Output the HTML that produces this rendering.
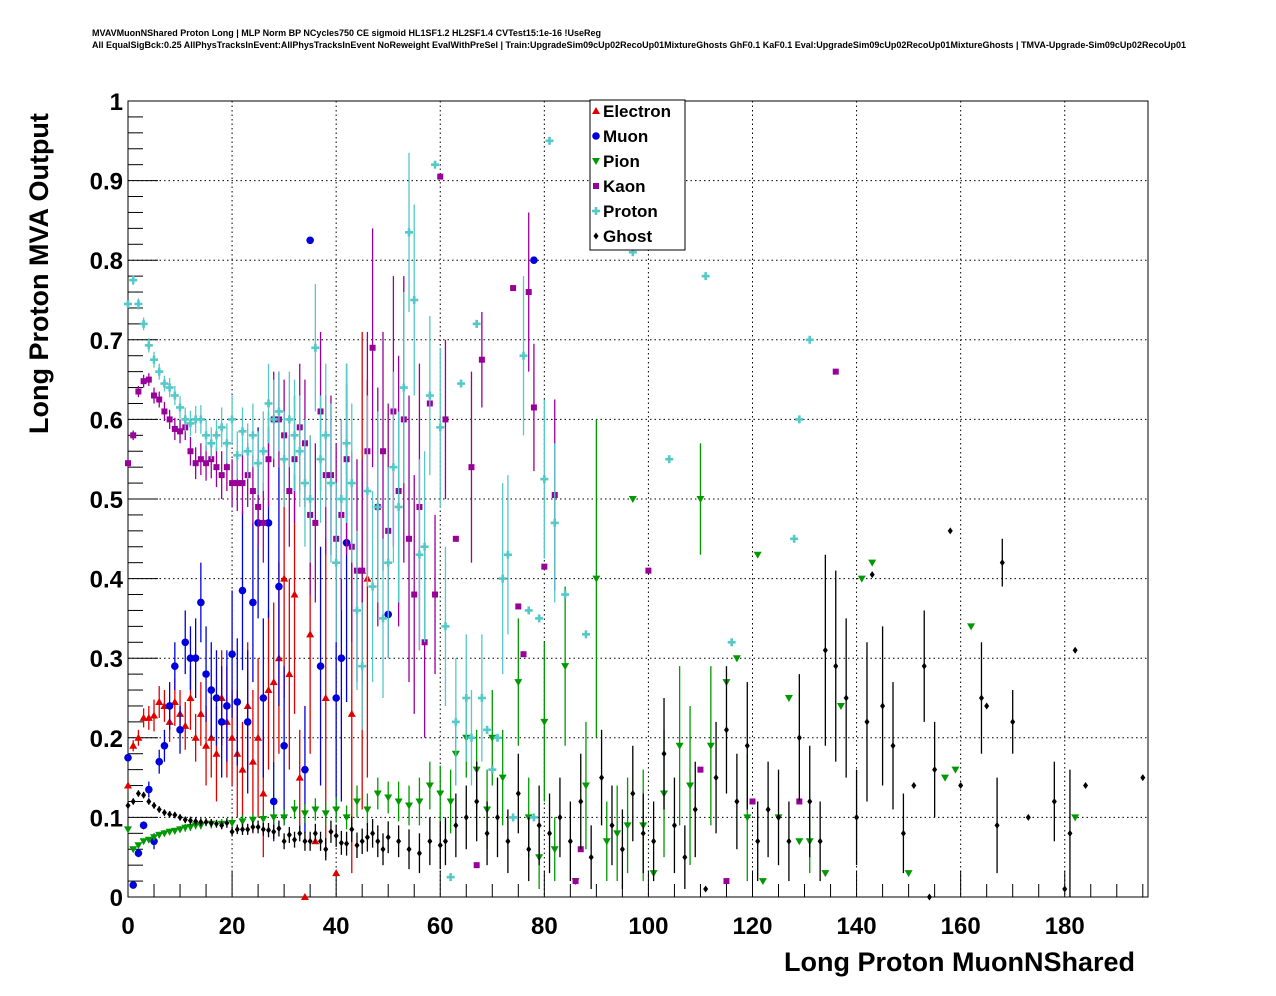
<!DOCTYPE html>
<html><head><meta charset="utf-8"><style>
body{margin:0;background:#fff;}
svg{display:block;font-family:"Liberation Sans",sans-serif;}
</style></head><body>
<svg id="c" width="1276" height="996">
<text x="92" y="36" font-size="9" font-weight="bold" textLength="509" lengthAdjust="spacingAndGlyphs">MVAVMuonNShared Proton Long | MLP Norm BP NCycles750 CE sigmoid HL1SF1.2 HL2SF1.4 CVTest15:1e-16 !UseReg</text>
<text x="92" y="48" font-size="9" font-weight="bold" textLength="1094" lengthAdjust="spacingAndGlyphs">All EqualSigBck:0.25 AllPhysTracksInEvent:AllPhysTracksInEvent NoReweight EvalWithPreSel | Train:UpgradeSim09cUp02RecoUp01MixtureGhosts GhF0.1 KaF0.1 Eval:UpgradeSim09cUp02RecoUp01MixtureGhosts | TMVA-Upgrade-Sim09cUp02RecoUp01</text>
<g id="grid"></g><g id="axes"></g><g id="marks"></g>
<text x="1135" y="971" font-size="27" font-weight="bold" text-anchor="end">Long Proton MuonNShared</text>
<text transform="translate(48,434) rotate(-90)" font-size="27" font-weight="bold">Long Proton MVA Output</text>
<g id="legend"></g>
</svg>
<script>
const xTicks=[0,20,40,60,80,100,120,140,160,180];
const yTicks=[0,0.1,0.2,0.3,0.4,0.5,0.6,0.7,0.8,0.9,1];
const yTickLabels=["0","0.1","0.2","0.3","0.4","0.5","0.6","0.7","0.8","0.9","1"];
const electron=[[0,0.14,0.005],[1,0.19,0.007],[2,0.2,0.01],[3,0.225,0.012],[4,0.225,0.015],[5,0.228,0.02],[6,0.245,0.02],[7,0.24,0.02],[8,0.22,0.025],[9,0.245,0.03],[10,0.23,0.03],[11,0.215,0.03],[12,0.25,0.04],[13,0.2,0.03],[14,0.23,0.04],[15,0.19,0.05],[16,0.2,0.05],[17,0.18,0.06],[18,0.25,0.06],[19,0.22,0.07],[20,0.2,0.06],[21,0.18,0.08],[22,0.16,0.06],[23,0.24,0.08],[24,0.17,0.09],[25,0.2,0.1],[26,0.13,0.08],[27,0.26,0.1],[28,0.27,0.1],[29,0.3,0.12],[30,0.4,0.15],[31,0.28,0.12],[32,0.38,0.15],[33,0.15,0.06],[34,0.0,0],[35,0.33,0.15],[36,0.07,0],[38,0.25,0.2],[40,0.03,0],[43,0.23,0.2],[45,0.41,0.3],[46,0.4,0.25]];
const muon=[[0,0.175,0.005],[1,0.015,0],[2,0.055,0.005],[3,0.09,0.005],[4,0.135,0.01],[5,0.07,0.01],[6,0.17,0.015],[7,0.19,0.02],[8,0.24,0.03],[9,0.29,0.03],[10,0.21,0.03],[11,0.32,0.04],[12,0.3,0.04],[13,0.3,0.05],[14,0.37,0.05],[15,0.28,0.06],[16,0.26,0.06],[17,0.25,0.06],[18,0.22,0.07],[19,0.24,0.07],[20,0.305,0.08],[21,0.245,0.08],[22,0.385,0.1],[23,0.22,0.09],[24,0.37,0.1],[25,0.47,0.12],[26,0.25,0.1],[27,0.47,0.12],[28,0.12,0.05],[29,0.39,0.15],[30,0.19,0.1],[34,0.16,0.08],[35,0.825,0],[37,0.29,0.15],[40,0.25,0.15],[41,0.3,0.18],[42,0.445,0.2],[50,0.355,0],[78,0.8,0]];
const pion=[[0,0.085,0.003],[1,0.06,0.003],[2,0.065,0.003],[3,0.07,0.003],[4,0.072,0.003],[5,0.075,0.003],[6,0.078,0.004],[7,0.08,0.004],[8,0.082,0.004],[9,0.083,0.004],[10,0.085,0.004],[11,0.087,0.005],[12,0.088,0.005],[13,0.09,0.005],[14,0.09,0.005],[16,0.092,0.006],[18,0.092,0.006],[20,0.093,0.007],[22,0.095,0.008],[24,0.097,0.008],[26,0.098,0.009],[28,0.1,0.01],[30,0.1,0.01],[32,0.11,0.012],[34,0.105,0.012],[36,0.11,0.014],[38,0.105,0.015],[40,0.11,0.015],[42,0.1,0.015],[44,0.12,0.02],[46,0.11,0.02],[48,0.13,0.02],[50,0.125,0.02],[52,0.12,0.025],[54,0.115,0.025],[56,0.12,0.03],[58,0.14,0.03],[60,0.13,0.035],[62,0.12,0.04],[63,0.18,0.04],[65,0.2,0.05],[67,0.16,0.05],[69,0.11,0.05],[70,0.2,0.06],[72,0.15,0.06],[75,0.27,0.08],[77,0.1,0.05],[79,0.05,0.04],[80,0.22,0.1],[82,0.06,0.04],[84,0.29,0.1],[86,0.02,0],[88,0.14,0.08],[90,0.4,0.2],[92,0.07,0.05],[94,0.08,0.06],[96,0.09,0.06],[97,0.5,0],[99,0.09,0.07],[101,0.03,0],[103,0.13,0.08],[106,0.19,0.1],[108,0.14,0.1],[110,0.5,0.07],[112,0.19,0.1],[115,0.27,0],[117,0.3,0],[119,0.1,0.08],[121,0.43,0],[122,0.02,0],[125,0.1,0],[127,0.25,0],[129,0.07,0],[131,0.07,0.04],[134,0.03,0],[137,0.24,0],[141,0.4,0],[143,0.42,0],[150,0.03,0],[157,0.15,0],[159,0.16,0],[162,0.34,0],[182,0.1,0]];
const kaon=[[0,0.545,0.005],[1,0.58,0.006],[2,0.635,0.007],[3,0.648,0.008],[4,0.65,0.008],[5,0.63,0.01],[6,0.625,0.01],[7,0.61,0.012],[8,0.6,0.012],[9,0.588,0.014],[10,0.585,0.015],[11,0.59,0.016],[12,0.56,0.018],[13,0.545,0.02],[14,0.55,0.02],[15,0.545,0.022],[16,0.55,0.024],[17,0.54,0.025],[18,0.53,0.03],[19,0.54,0.03],[20,0.52,0.03],[21,0.52,0.035],[22,0.52,0.04],[23,0.53,0.04],[24,0.51,0.045],[25,0.49,0.05],[26,0.47,0.05],[27,0.55,0.06],[28,0.6,0.06],[29,0.6,0.06],[30,0.58,0.07],[31,0.51,0.07],[32,0.55,0.08],[33,0.59,0.08],[34,0.57,0.08],[35,0.48,0.1],[36,0.47,0.1],[37,0.61,0.1],[38,0.53,0.1],[39,0.53,0.1],[40,0.45,0.12],[41,0.48,0.12],[42,0.55,0.12],[43,0.44,0.12],[44,0.41,0.14],[45,0.41,0.14],[46,0.56,0.15],[47,0.69,0.15],[48,0.49,0.15],[49,0.56,0.15],[50,0.46,0.16],[51,0.61,0.17],[52,0.51,0.17],[53,0.6,0.18],[54,0.45,0.18],[55,0.38,0.15],[56,0.49,0.18],[57,0.32,0.12],[58,0.62,0],[59,0.38,0.1],[60,0.905,0],[61,0.6,0.1],[63,0.45,0],[66,0.54,0.12],[67,0.04,0],[68,0.675,0.06],[74,0.765,0],[75,0.365,0],[76,0.305,0],[77,0.76,0.1],[78,0.615,0.08],[80,0.415,0],[82,0.505,0.12],[86,0.02,0],[87,0.06,0],[100,0.41,0],[110,0.16,0],[115,0.02,0],[120,0.12,0],[129,0.12,0],[136,0.66,0]];
const proton=[[0,0.745,0.005],[1,0.775,0.006],[2,0.745,0.007],[3,0.72,0.008],[4,0.693,0.009],[5,0.675,0.01],[6,0.66,0.01],[7,0.645,0.01],[8,0.64,0.012],[9,0.63,0.012],[10,0.615,0.014],[11,0.6,0.015],[12,0.595,0.016],[13,0.6,0.017],[14,0.6,0.018],[15,0.58,0.02],[16,0.57,0.02],[17,0.58,0.02],[18,0.59,0.025],[19,0.57,0.025],[20,0.6,0.03],[21,0.555,0.03],[22,0.585,0.03],[23,0.56,0.035],[24,0.58,0.04],[25,0.545,0.04],[26,0.56,0.05],[27,0.62,0.05],[28,0.6,0.05],[29,0.61,0.05],[30,0.55,0.06],[31,0.6,0.06],[32,0.58,0.07],[33,0.56,0.07],[34,0.52,0.08],[35,0.5,0.08],[36,0.69,0.08],[37,0.55,0.08],[38,0.58,0.09],[39,0.52,0.1],[40,0.42,0.1],[41,0.5,0.1],[42,0.57,0.1],[43,0.52,0.1],[44,0.36,0.1],[45,0.29,0.08],[46,0.51,0.12],[47,0.39,0.12],[48,0.49,0.12],[49,0.35,0.1],[50,0.42,0.12],[51,0.54,0.12],[52,0.49,0.12],[53,0.64,0.12],[54,0.835,0.1],[55,0.75,0.12],[56,0.43,0.12],[57,0.44,0.12],[58,0.63,0.1],[59,0.92,0],[60,0.59,0.1],[61,0.34,0.1],[62,0.025,0],[63,0.22,0.08],[64,0.645,0],[65,0.25,0.08],[66,0.2,0.06],[67,0.72,0],[68,0.25,0.08],[69,0.21,0],[70,0.16,0],[71,0.2,0],[72,0.4,0.12],[73,0.43,0.1],[74,0.1,0],[76,0.68,0.1],[77,0.36,0],[78,0.1,0],[79,0.35,0],[80,0.525,0.1],[81,0.95,0],[82,0.47,0.1],[84,0.38,0],[88,0.33,0],[97,0.81,0],[104,0.55,0],[111,0.78,0],[116,0.32,0],[128,0.45,0],[129,0.6,0],[131,0.7,0]];
const ghost=[[0,0.115,0.004],[1,0.12,0.004],[2,0.13,0.004],[3,0.128,0.004],[4,0.12,0.004],[5,0.115,0.004],[6,0.11,0.004],[7,0.106,0.004],[8,0.104,0.004],[9,0.103,0.004],[10,0.1,0.004],[11,0.097,0.004],[12,0.096,0.005],[13,0.095,0.005],[14,0.094,0.005],[15,0.094,0.005],[16,0.093,0.005],[17,0.092,0.005],[18,0.09,0.005],[19,0.093,0.006],[20,0.082,0.006],[21,0.085,0.006],[22,0.085,0.007],[23,0.085,0.007],[24,0.088,0.007],[25,0.088,0.008],[26,0.085,0.008],[27,0.084,0.009],[28,0.082,0.009],[29,0.086,0.01],[30,0.07,0.01],[31,0.078,0.01],[32,0.072,0.01],[33,0.08,0.01],[34,0.07,0.012],[35,0.07,0.012],[36,0.08,0.012],[37,0.07,0.012],[38,0.06,0.014],[39,0.082,0.014],[40,0.077,0.014],[41,0.068,0.015],[42,0.067,0.015],[43,0.085,0.016],[44,0.065,0.016],[45,0.07,0.016],[46,0.075,0.018],[47,0.08,0.018],[48,0.07,0.02],[49,0.06,0.02],[50,0.075,0.02],[52,0.07,0.02],[54,0.06,0.025],[56,0.055,0.025],[58,0.07,0.03],[60,0.065,0.03],[61,0.07,0.03],[63,0.09,0.04],[65,0.1,0.04],[67,0.12,0.05],[69,0.08,0.04],[71,0.1,0.05],[73,0.07,0.04],[75,0.13,0.05],[77,0.06,0.04],[79,0.09,0.05],[81,0.08,0.05],[83,0.1,0.05],[85,0.07,0.05],[87,0.12,0.06],[89,0.05,0.04],[91,0.15,0.06],[93,0.09,0.05],[95,0.06,0.05],[97,0.13,0.06],[99,0.08,0.05],[101,0.07,0.05],[103,0.18,0.07],[105,0.09,0.06],[107,0.05,0.04],[109,0.11,0.06],[111,0.01,0],[113,0.15,0.07],[115,0.21,0.08],[117,0.12,0.06],[119,0.19,0.08],[121,0.07,0.05],[123,0.11,0.06],[125,0.1,0.06],[127,0.07,0.05],[129,0.2,0.08],[131,0.12,0.07],[133,0.07,0.05],[134,0.31,0.12],[136,0.29,0.12],[138,0.25,0.1],[140,0.1,0.06],[142,0.22,0.1],[143,0.405,0],[145,0.24,0.1],[147,0.19,0.08],[149,0.08,0.05],[151,0.14,0],[153,0.29,0.07],[154,0.0,0],[155,0.16,0.06],[158,0.46,0],[160,0.14,0],[164,0.25,0.07],[165,0.24,0],[167,0.09,0.06],[168,0.42,0.03],[170,0.22,0.04],[173,0.1,0],[178,0.12,0.05],[180,0.01,0],[181,0.08,0.08],[182,0.31,0],[184,0.14,0],[195,0.15,0]];
const legendLabels=["Electron","Muon","Pion","Kaon","Proton","Ghost"];

const L=128,R=1148,T=101,B=897,XMAX=196;
const X=v=>L+(v+0.5)/XMAX*(R-L)-2.6;
const XA=v=>L+v/XMAX*(R-L);
const Y=v=>B-v*(B-T);
const NS="http://www.w3.org/2000/svg";
function mk(tag,attrs,parent){const e=document.createElementNS(NS,tag);for(const k in attrs)e.setAttribute(k,attrs[k]);parent.appendChild(e);return e;}
const grid=document.getElementById('grid'),axes=document.getElementById('axes'),marks=document.getElementById('marks'),leg=document.getElementById('legend');
mk('rect',{x:L,y:T,width:R-L,height:B-T,fill:'none',stroke:'#000','stroke-width':1},axes);
xTicks.forEach(t=>{const x=XA(t);
 if(t>0){const g=mk('line',{x1:x,x2:x,y1:T,y2:B,stroke:'#000','stroke-dasharray':'1.5,3'},grid);}
 mk('line',{x1:x,x2:x,y1:B,y2:B-26,stroke:'#000'},axes);
 const tx=mk('text',{x:x,y:B+37,'font-size':24,'font-weight':'bold','text-anchor':'middle'},axes);tx.textContent=t;
 
});
for(let t=0;t<=195;t+=5){if(t%20)mk('line',{x1:XA(t),x2:XA(t),y1:B,y2:B-13,stroke:'#000'},axes);}
yTicks.forEach((t,i)=>{const y=Y(t);
 if(t>0&&t<1){const g=mk('line',{x1:L,x2:R,y1:y,y2:y,stroke:'#000','stroke-dasharray':'1.5,3'},grid);}
 mk('line',{x1:L,x2:L+30,y1:y,y2:y,stroke:'#000'},axes);
 const tx=mk('text',{x:L-5,y:y+9,'font-size':24,'font-weight':'bold','text-anchor':'end'},axes);tx.textContent=yTickLabels[i];
 
});
for(let t=0;t<=100;t+=2){if(t%10)mk('line',{x1:L,x2:L+15,y1:Y(t/100),y2:Y(t/100),stroke:'#000'},axes);}
function marker(type,cx,cy,col,p){
 if(type==='tu')return mk('polygon',{points:`${cx},${cy-4} ${cx-4},${cy+3} ${cx+4},${cy+3}`,fill:col},p);
 if(type==='td')return mk('polygon',{points:`${cx},${cy+4} ${cx-4},${cy-3} ${cx+4},${cy-3}`,fill:col},p);
 if(type==='c')return mk('circle',{cx:cx,cy:cy,r:3.8,fill:col},p);
 if(type==='s')return mk('rect',{x:cx-3,y:cy-3,width:6,height:6,fill:col},p);
 if(type==='d')return mk('polygon',{points:`${cx},${cy-3.5} ${cx-2.5},${cy} ${cx},${cy+3.5} ${cx+2.5},${cy}`,fill:col},p);
 if(type==='x'){const g=mk('g',{},p);mk('rect',{x:cx-4,y:cy-1.3,width:8,height:2.6,fill:col},g);mk('rect',{x:cx-1.3,y:cy-4,width:2.6,height:8,fill:col},g);return g;}
}
const series=[[electron,'tu','#e00000','electron'],[muon,'c','#0000dd','muon'],[pion,'td','#009900','pion'],[kaon,'s','#990099','kaon'],[proton,'x','#55c8c8','proton'],[ghost,'d','#000000','ghost']];
series.forEach(([data,type,col,name])=>{
 const g=mk('g',{},marks);
 data.forEach(([x,y,e])=>{const cx=X(x),cy=Y(y);
  if(e>0){const l=mk('line',{x1:cx,x2:cx,y1:Y(Math.min(1,y+e)),y2:Y(Math.max(0,y-e)),stroke:col,'stroke-width':1.3},g);}
  const m=marker(type,cx,cy,col,g);
 });
});
mk('rect',{x:590,y:100,width:95,height:150,fill:'#fff',stroke:'#000'},leg);
series.forEach(([d,type,col,name],i)=>{const y=111+i*25;
 const m=marker(type,596,y,col,leg);
 const t=mk('text',{x:603,y:y+6,'font-size':17,'font-weight':'bold'},leg);t.textContent=legendLabels[i];
 
});
</script>
</body></html>
